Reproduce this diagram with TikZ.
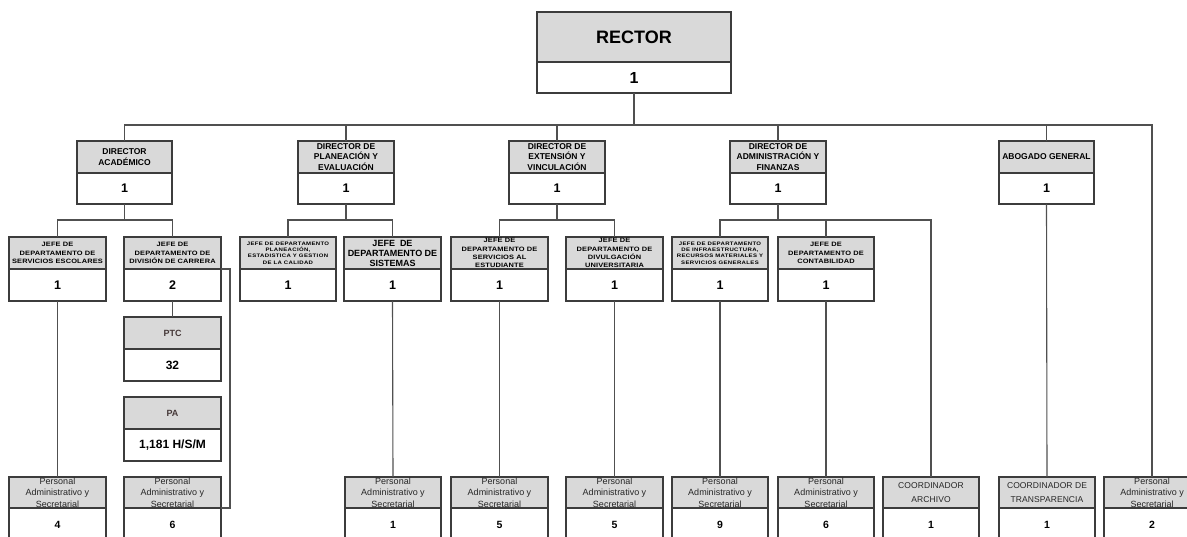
\documentclass[tikz,border=0pt]{standalone}
\usepackage{fontspec}
\setmainfont{Liberation Sans}
\newfontfamily\jfont[FakeStretch=1.18,LetterSpace=2]{Liberation Sans}
\newfontfamily\jsfont[FakeStretch=1.2,LetterSpace=7]{Liberation Sans}
\newfontfamily\cfont[LetterSpace=1]{Liberation Sans}
\definecolor{hdrfill}{HTML}{D9D9D9}
\definecolor{boxline}{HTML}{3C3C3C}
\definecolor{connc}{HTML}{505050}
\definecolor{ptctxt}{HTML}{453838}
\newcommand{\pstxt}{Personal\\Administrativo y\\Secretarial}
\tikzset{
  box/.style={draw=boxline, line width=1.2pt, inner sep=0pt, outer sep=0pt, align=center, anchor=north west},
  hd/.style={box, fill=hdrfill},
  vl/.style={box, fill=white, font=\bfseries\fontsize{12.5}{13}\selectfont},
  Rh/.style={hd, font=\bfseries\fontsize{18}{19}\selectfont},
  Rv/.style={vl, font=\bfseries\fontsize{16}{17}\selectfont},
  Dh/.style={hd, font=\bfseries\fontsize{8.5}{10.5}\selectfont},
  Dv/.style={vl},
  Kh/.style={hd, font=\bfseries\fontsize{9}{10}\selectfont},
  Kv/.style={vl},
  Jh/.style={hd, font=\jfont\bfseries\fontsize{6.3}{8.2}\selectfont},
  Jv/.style={vl},
  Sh/.style={hd, font=\jsfont\bfseries\fontsize{5}{6.4}\selectfont},
  Sv/.style={vl},
  Ph/.style={hd, font=\fontsize{9}{11.6}\selectfont, text=black!85},
  Pv/.style={vl, font=\bfseries\fontsize{10.5}{12}\selectfont},
  Ch/.style={hd, font=\cfont\fontsize{8.5}{13.5}\selectfont, text=black!85},
  Cv/.style={vl, font=\bfseries\fontsize{10.5}{12}\selectfont},
  Th/.style={hd, font=\bfseries\fontsize{9}{10}\selectfont, text=ptctxt},
  Tv/.style={vl, font=\bfseries\fontsize{12}{13}\selectfont},
  conn/.style={draw=connc, line width=1.1pt},
}
\newcommand{\obox}[9]{%
  \node[#7h, minimum width={(#3)-(#2)}, minimum height={(#5)-(#4)}] (#1h) at (#2,#4) {#8};
  \node[#7v, minimum width={(#3)-(#2)}, minimum height={(#6)-(#5)}] (#1v) at (#2,#5) {#9};}
\begin{document}
\begin{tikzpicture}[x=1pt,y=-1pt]
\useasboundingbox (0,0) rectangle (1187,537);
\clip (0,0) rectangle (1187,537);
% rector
\obox{r}{537}{731}{12}{62}{93}{R}{RECTOR}{1}
% directors
\obox{dA}{77}{172}{141}{173}{204}{D}{DIRECTOR\\ACADÉMICO}{1}
\obox{dP}{298}{394}{141}{173}{204}{D}{DIRECTOR DE\\PLANEACIÓN Y\\EVALUACIÓN}{1}
\obox{dE}{509}{605}{141}{173}{204}{D}{DIRECTOR DE\\EXTENSIÓN Y\\VINCULACIÓN}{1}
\obox{dF}{730}{826}{141}{173}{204}{D}{DIRECTOR DE\\ADMINISTRACIÓN Y\\FINANZAS}{1}
\obox{dG}{999}{1094}{141}{173}{204}{D}{ABOGADO GENERAL}{1}
% jefes
\obox{jA}{9}{106}{237}{269}{301}{J}{JEFE DE\\DEPARTAMENTO DE\\SERVICIOS ESCOLARES}{1}
\obox{jB}{124}{221}{237}{269}{301}{J}{JEFE DE\\DEPARTAMENTO DE\\DIVISIÓN DE CARRERA}{2}
\obox{jC}{240}{336}{237}{269}{301}{S}{JEFE DE DEPARTAMENTO\\PLANEACIÓN,\\ESTADISTICA Y GESTION\\DE LA CALIDAD}{1}
\obox{jD}{344}{441}{237}{269}{301}{K}{JEFE\ \ DE\\DEPARTAMENTO DE\\SISTEMAS}{1}
\obox{jE}{451}{548}{237}{269}{301}{J}{JEFE DE\\DEPARTAMENTO DE\\SERVICIOS AL\\ESTUDIANTE}{1}
\obox{jF}{566}{663}{237}{269}{301}{J}{JEFE DE\\DEPARTAMENTO DE\\DIVULGACIÓN\\UNIVERSITARIA}{1}
\obox{jG}{672}{768}{237}{269}{301}{S}{JEFE DE DEPARTAMENTO\\DE INFRAESTRUCTURA,\\RECURSOS MATERIALES Y\\SERVICIOS GENERALES}{1}
\obox{jH}{778}{874}{237}{269}{301}{J}{JEFE DE\\DEPARTAMENTO DE\\CONTABILIDAD}{1}
% PTC / PA
\obox{ptc}{124}{221}{317}{349}{381}{T}{PTC}{32}
\obox{pa}{124}{221}{397}{429}{461}{T}{PA}{1,181 H/S/M}
% bottom row
\obox{pA}{9}{106}{477}{508}{541}{P}{\pstxt}{4}
\obox{pB}{124}{221}{477}{508}{541}{P}{\pstxt}{6}
\obox{pD}{345}{441}{477}{508}{541}{P}{\pstxt}{1}
\obox{pE}{451}{548}{477}{508}{541}{P}{\pstxt}{5}
\obox{pF}{566}{663}{477}{508}{541}{P}{\pstxt}{5}
\obox{pG}{672}{768}{477}{508}{541}{P}{\pstxt}{9}
\obox{pH}{778}{874}{477}{508}{541}{P}{\pstxt}{6}
\obox{cA}{883}{979}{477}{508}{541}{C}{COORDINADOR\\ARCHIVO}{1}
\obox{cT}{999}{1095}{477}{508}{541}{C}{COORDINADOR DE\\TRANSPARENCIA}{1}
\obox{pZ}{1104}{1200}{477}{508}{541}{P}{\pstxt}{2}
% connectors
\coordinate (b0) at (0,125);
\coordinate (b1) at (0,220);
\coordinate (sx) at (230,0);
\draw[conn] (rv.south) -- (rv.south |- b0);
\draw[conn] (dAh.north) -- (dAh.north |- b0) -- (pZh.north |- b0) -- (pZh.north);
\draw[conn] (dPh.north) -- (dPh.north |- b0);
\draw[conn] (dEh.north) -- (dEh.north |- b0);
\draw[conn] (dFh.north) -- (dFh.north |- b0);
\draw[conn] (dGh.north) -- (dGh.north |- b0);
\draw[conn] (dAv.south) -- (dAv.south |- b1);
\draw[conn] (jAh.north) -- (jAh.north |- b1) -- (jBh.north |- b1) -- (jBh.north);
\draw[conn] (dPv.south) -- (dPv.south |- b1);
\draw[conn] (jCh.north) -- (jCh.north |- b1) -- (jDh.north |- b1) -- (jDh.north);
\draw[conn] (dEv.south) -- (dEv.south |- b1);
\draw[conn] (jEh.north) -- (jEh.north |- b1) -- (jFh.north |- b1) -- (jFh.north);
\draw[conn] (dFv.south) -- (dFv.south |- b1);
\draw[conn] (jGh.north) -- (jGh.north |- b1) -- (cAh.north |- b1) -- (cAh.north);
\draw[conn] (jHh.north) -- (jHh.north |- b1);
\draw[conn] (dGv.south) -- (cTh.north);
\draw[conn] (jAv.south) -- (pAh.north);
\draw[conn] (jBv.south) -- (ptch.north);
\draw[conn] (jDv.south) -- (pDh.north);
\draw[conn] (jEv.south) -- (pEh.north);
\draw[conn] (jFv.south) -- (pFh.north);
\draw[conn] (jGv.south) -- (pGh.north);
\draw[conn] (jHv.south) -- (pHh.north);
\draw[conn] (jBh.south east) -- (jBh.south east -| sx) -- (pBh.south east -| sx) -- (pBh.south east);
\end{tikzpicture}
\end{document}
